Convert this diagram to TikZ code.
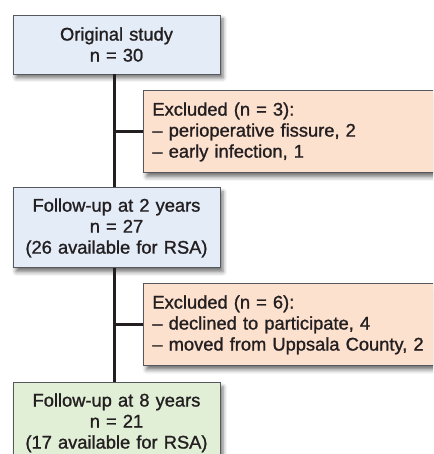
\documentclass[tikz,border=0pt]{standalone}
\usepackage{fontspec}
\setmainfont{Liberation Sans}[FakeBold=1.2]
\usetikzlibrary{positioning, shadows.blur}
\definecolor{boxblue}{HTML}{E4ECF7}
\definecolor{boxpeach}{HTML}{FDE1CF}
\definecolor{boxgreen}{HTML}{E2EFD7}
\definecolor{rimgray}{HTML}{55585C}
\definecolor{spine}{HTML}{231F20}
\tikzset{x=1pt, y=1pt, % Work in points, one point per pixel of the original
every node/.style={ % Common look of all boxes
font=\fontsize{18.3}{21}\selectfont, text=spine,
draw=rimgray, line width=0.9pt,
blur shadow={shadow xshift=3pt, shadow yshift=-4pt, shadow blur radius=4pt, shadow opacity=55}},
stagebox/.style={ % Boxes of the main column
fill=boxblue, align=center,
text width=190pt, minimum width=207pt, inner xsep=8.5pt},
exclbox/.style={ % Boxes with the excluded patients
fill=boxpeach, align=left,
text width=292pt, minimum width=310pt, inner xsep=9pt, minimum height=82pt},
link/.style={ % Connecting lines
draw=spine, line width=3pt}}

\begin{document}
\begin{tikzpicture}
    \clip (0,0) rectangle (433,-454);
    
    \node[stagebox, minimum height=59pt] (orig) at (116.5,-44.5) {Original study\\n = 30};
    \node[stagebox, minimum height=80pt, below=113pt of orig] (fu2) {Follow-up at 2 years\\n = 27\\(26 available for RSA)};
    \node[stagebox, minimum height=80pt, below=114pt of fu2, fill=boxgreen] (fu8) {Follow-up at 8 years\\n = 21\\(17 available for RSA)};
    
    \node[exclbox, below=16pt of orig.south, xshift=26.5pt, anchor=north west] (exa) {Excluded (n = 3):\\– perioperative fissure, 2\\– early infection, 1};
    \node[exclbox, below=15pt of fu2.south, xshift=26.5pt, anchor=north west] (exb) {Excluded (n = 6):\\– declined to participate, 4\\– moved from Uppsala County, 2};
    
    \draw[link] ([xshift=-2.5pt]orig.south) -- ([xshift=-2.5pt]fu2.north);
    \draw[link] ([xshift=-2.5pt]fu2.south) -- ([xshift=-2.5pt]fu8.north);
    \draw[link] ([xshift=-2.5pt]orig.south |- exa.west) -- (exa.west);
    \draw[link] ([xshift=-2.5pt]fu2.south |- exb.west) -- (exb.west);
    
\end{tikzpicture}
\end{document}
